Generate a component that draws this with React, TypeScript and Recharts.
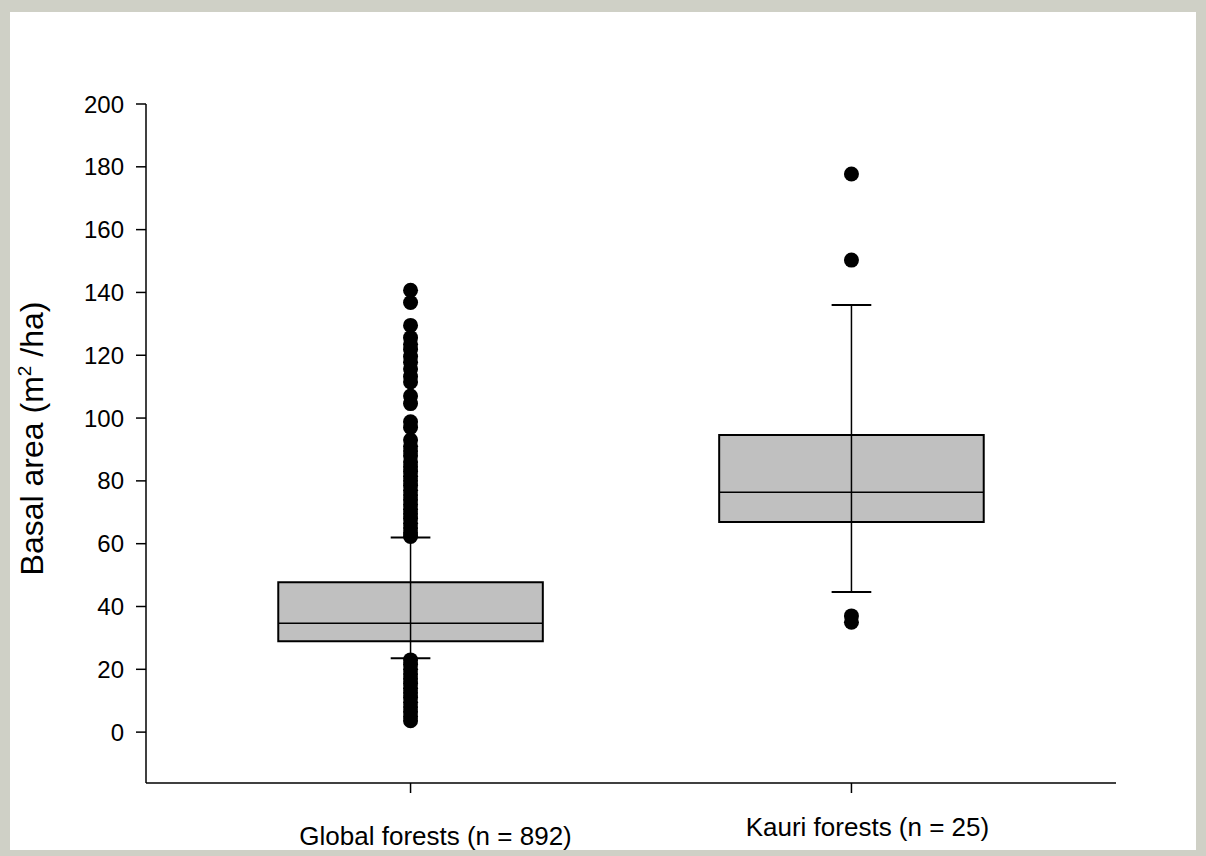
import { ComposedChart, XAxis, YAxis, Scatter, ReferenceArea, ReferenceLine } from "recharts";

// group positions on the numeric x axis
const groups = ["Global forests (n = 892)", "Kauri forests (n = 25)"];
const groupX = [1, 2];

// box statistics
const q1 = [28.9, 66.9];
const median = [34.7, 76.4];
const q3 = [47.7, 94.6];
const whiskerLow = [23.5, 44.6];
const whiskerHigh = [62, 136];

const globalOutliers = [
  140.7, 136.8, 129.5, 125.6, 123.5, 121.8, 119.6, 117.8, 115.6, 113.2, 111.5, 107, 104.6, 98.8, 97,
  93, 91, 89.5, 88, 86, 84.5, 83, 81.5, 80, 78.5, 77, 75.5, 74, 72.5, 71, 69.5, 68, 66.5, 65, 63.5, 62.3,
  23, 21.5, 20, 18.5, 17, 15.5, 14, 12.5, 11, 9.5, 8, 6.5, 5, 3.6,
];
const kauriOutliers = [177.7, 150.3, 37, 35];

const yTicks = [0, 20, 40, 60, 80, 100, 120, 140, 160, 180, 200];

const outlierData = [
  ...globalOutliers.map((v) => ({ x: groupX[0], y: v })),
  ...kauriOutliers.map((v) => ({ x: groupX[1], y: v })),
];

const HALF_BOX = 0.3;
const HALF_CAP = 0.045;
const FONT = "'Liberation Sans', Arial, sans-serif";

const labelShift = [
  { dx: 25, dy: 0 },
  { dx: 16, dy: -9 },
];

const Dot = (props: any) => <circle cx={props.cx} cy={props.cy} r={7.5} fill="#000" />;

const XTick = (props: any) => {
  const { x, y, payload } = props;
  const i = groupX.indexOf(payload.value);
  const s = labelShift[i] || { dx: 0, dy: 0 };
  return (
    <text x={x + s.dx} y={y + s.dy + 50} textAnchor="middle" fontSize={26} fontFamily={FONT} fill="#000">
      {groups[i] ?? ""}
    </text>
  );
};

const YLabel = (props: any) => {
  const vb = props.viewBox || {};
  const cx = 43;
  const cy = vb.y + vb.height / 2 - 5;
  return (
    <text
      x={cx}
      y={cy}
      transform={`rotate(-90, ${cx}, ${cy})`}
      textAnchor="middle"
      fontSize={32}
      fontFamily={FONT}
      fill="#000"
    >
      Basal area (m
      <tspan fontSize={19} dy={-12}>
        2
      </tspan>
      <tspan dy={12}> /ha)</tspan>
    </text>
  );
};

export default function App() {
  return (
    <div style={{ position: "absolute", left: 0, top: 0, width: 1206, height: 856, background: "#cfd0c6" }}>
      <div style={{ position: "absolute", left: 10, top: 12, width: 1186, height: 838, background: "#fff" }} />
      <div style={{ position: "absolute", left: 0, top: 0 }}>
        <ComposedChart width={1206} height={856} margin={{ top: 104, right: 90, bottom: 13, left: 66 }}>
          <XAxis
            type="number"
            dataKey="x"
            domain={[0.4, 2.6]}
            ticks={groupX}
            tickSize={10}
            stroke="#000"
            strokeWidth={1.5}
            height={60}
            tick={<XTick />}
            allowDataOverflow
          />
          <YAxis
            type="number"
            dataKey="y"
            domain={[-16.2, 200]}
            ticks={yTicks}
            tickSize={10}
            tickMargin={12}
            width={80}
            stroke="#000"
            strokeWidth={1.5}
            allowDataOverflow
            tick={{ fill: "#000", fontSize: 24, fontFamily: FONT }}
            label={<YLabel />}
          />
          {groupX.map((gx, i) => (
            <ReferenceLine
              key={"w" + i}
              segment={[
                { x: gx, y: whiskerLow[i] },
                { x: gx, y: whiskerHigh[i] },
              ]}
              stroke="#000"
              strokeWidth={1.5}
            />
          ))}
          {groupX.map((gx, i) => (
            <ReferenceArea
              key={"b" + i}
              x1={gx - HALF_BOX}
              x2={gx + HALF_BOX}
              y1={q1[i]}
              y2={q3[i]}
              fill="#c0c0c0"
              fillOpacity={1}
              stroke="#000"
              strokeWidth={2}
            />
          ))}
          {groupX.map((gx, i) => (
            <ReferenceLine
              key={"m" + i}
              segment={[
                { x: gx - HALF_BOX, y: median[i] },
                { x: gx + HALF_BOX, y: median[i] },
              ]}
              stroke="#000"
              strokeWidth={1.5}
            />
          ))}
          {groupX.map((gx, i) => (
            <ReferenceLine
              key={"ch" + i}
              segment={[
                { x: gx - HALF_CAP, y: whiskerHigh[i] },
                { x: gx + HALF_CAP, y: whiskerHigh[i] },
              ]}
              stroke="#000"
              strokeWidth={2}
            />
          ))}
          {groupX.map((gx, i) => (
            <ReferenceLine
              key={"cl" + i}
              segment={[
                { x: gx - HALF_CAP, y: whiskerLow[i] },
                { x: gx + HALF_CAP, y: whiskerLow[i] },
              ]}
              stroke="#000"
              strokeWidth={2}
            />
          ))}
          <Scatter data={outlierData} dataKey="y" shape={<Dot />} isAnimationActive={false} />
        </ComposedChart>
      </div>
    </div>
  );
}
